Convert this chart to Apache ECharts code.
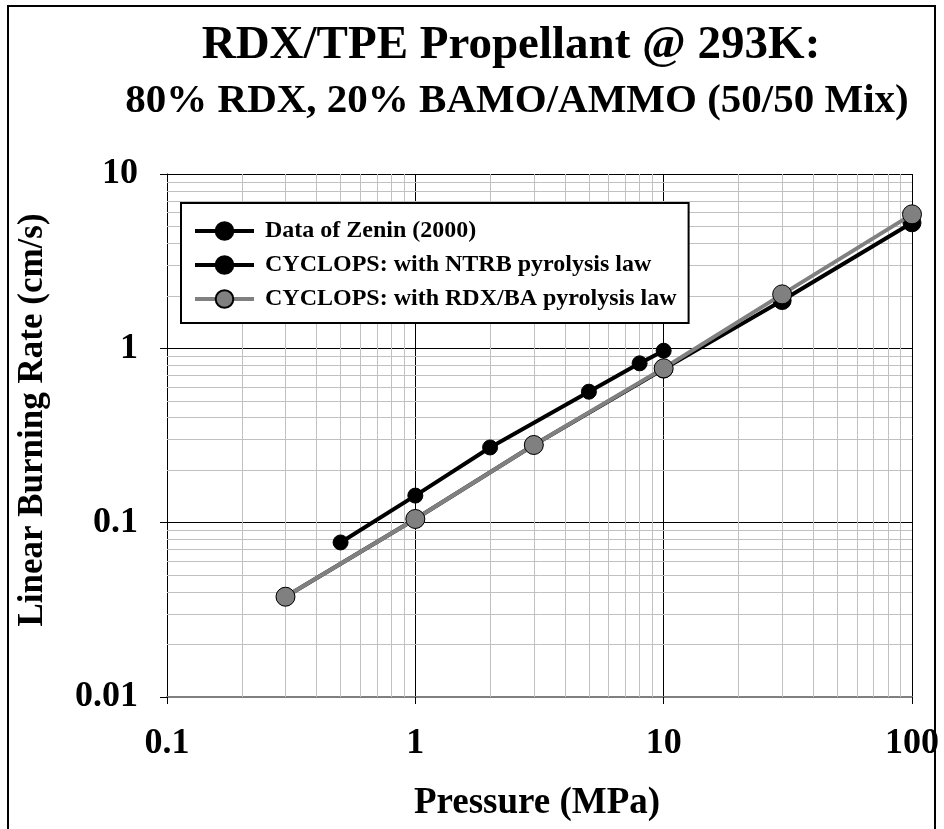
<!DOCTYPE html>
<html>
<head>
<meta charset="utf-8">
<script src="https://cdn.jsdelivr.net/npm/echarts@6/dist/echarts.min.js"></script>
<style>
html,body{margin:0;padding:0;background:#fff;}
#chart{width:944px;height:829px;}
</style>
</head>
<body>
<div id="chart"></div>
<script>
// ---- data ----
const seriesNames = ['Data of Zenin (2000)', 'CYCLOPS: with NTRB pyrolysis law', 'CYCLOPS: with RDX/BA pyrolysis law'];
const pressureZenin = [0.5, 1, 2, 5, 8, 10];
const rateZenin = [0.077, 0.143, 0.270, 0.564, 0.82, 0.969];
const pressureModel = [0.3, 1, 3, 10, 30, 100];
const rateNTRB = [0.0376, 0.105, 0.279, 0.76, 1.88, 5.25];
const rateRDXBA = [0.0376, 0.105, 0.279, 0.768, 2.04, 5.87];
const xTickLabels = ['0.1', '1', '10', '100'];
const yTickLabels = ['0.01', '0.1', '1', '10'];
const titleText = 'RDX/TPE Propellant @ 293K:';
const subtitleText = '80% RDX, 20% BAMO/AMMO (50/50 Mix)';
const xAxisTitle = 'Pressure (MPa)';
const yAxisTitle = 'Linear Burning Rate (cm/s)';

// minor gridline positions (2..9 within each decade)
function minorValues(labels) {
  const out = [];
  for (let i = 0; i < labels.length - 1; i++) {
    const base = Number(labels[i]);
    for (let k = 2; k <= 9; k++) out.push(+(base * k).toPrecision(6));
  }
  return out;
}
const xMinor = minorValues(xTickLabels);
const yMinor = minorValues(yTickLabels);

function pairs(xs, ys) { return xs.map((x, i) => [x, ys[i]]); }
function labelFor(list) {
  return function (v) {
    const hit = list.find(t => Math.abs(Math.log10(Number(t)) - Math.log10(v)) < 1e-6);
    return hit === undefined ? '' : hit;
  };
}

const FONT = "'Liberation Serif', 'Times New Roman', serif";

const chart = echarts.init(document.getElementById('chart'), null, {renderer: 'canvas'});
const option = {
  backgroundColor: '#ffffff',
  animation: false,
  title: [
    {text: titleText, left: 511, top: 46, textAlign: 'center', textVerticalAlign: 'middle', padding: 0,
      textStyle: {fontFamily: FONT, fontWeight: 'bold', fontSize: 47, color: '#000'}},
    {text: subtitleText, left: 517, top: 101, textAlign: 'center', textVerticalAlign: 'middle', padding: 0,
      textStyle: {fontFamily: FONT, fontWeight: 'bold', fontSize: 41, color: '#000'}}
  ],
  grid: {left: 167, top: 174, right: 32, bottom: 132, containLabel: false},
  xAxis: {
    type: 'log', logBase: 10,
    min: Number(xTickLabels[0]), max: Number(xTickLabels[xTickLabels.length - 1]),
    axisLine: {show: true, onZero: false, lineStyle: {color: '#808080', width: 2}},
    axisTick: {show: true, length: 7, inside: false, lineStyle: {color: '#000', width: 1}},
    axisLabel: {show: true, margin: 29, color: '#000', fontFamily: FONT, fontWeight: 'bold', fontSize: 36,
      formatter: labelFor(xTickLabels)},
    splitLine: {show: true, lineStyle: {color: '#000', width: 1}},
    minorTick: {show: false}, minorSplitLine: {show: false}
  },
  yAxis: {
    type: 'log', logBase: 10,
    min: Number(yTickLabels[0]), max: Number(yTickLabels[yTickLabels.length - 1]),
    axisLine: {show: true, onZero: false, lineStyle: {color: '#000', width: 1}},
    axisTick: {show: true, length: 7, inside: false, lineStyle: {color: '#000', width: 1}},
    axisLabel: {show: true, margin: 29, color: '#000', fontFamily: FONT, fontWeight: 'bold', fontSize: 36,
      formatter: labelFor(yTickLabels)},
    splitLine: {show: true, lineStyle: {color: '#000', width: 1}},
    minorTick: {show: false}, minorSplitLine: {show: false}
  },
  legend: {
    show: true,
    orient: 'vertical',
    left: 181, top: 203,
    z: 10,
    padding: [16, 12, 12, 12],
    itemWidth: 59, itemHeight: 22, itemGap: 10,
    backgroundColor: '#ffffff',
    borderColor: '#000', borderWidth: 2,
    lineStyle: {width: 4},
    formatter: function (name) { return ' ' + name; },
    textStyle: {fontFamily: FONT, fontWeight: 'bold', fontSize: 24, color: '#000'},
    data: seriesNames,
    selectedMode: false
  },
  graphic: [
    {type: 'rect', silent: true, z: 100,
      shape: {x: 8, y: 6, width: 927, height: 900},
      style: {fill: 'none', stroke: '#000', lineWidth: 2}},
    {type: 'text', x: 537, y: 803, silent: true,
      style: {text: xAxisTitle, font: "bold 37px " + FONT, fill: '#000', textAlign: 'center', textVerticalAlign: 'middle'}},
    {type: 'text', x: 33, y: 420, rotation: Math.PI / 2, silent: true,
      style: {text: yAxisTitle, font: "bold 35px " + FONT, fill: '#000', textAlign: 'center', textVerticalAlign: 'middle'}}
  ],
  series: [
    {
      name: '__minorGrid', type: 'line', data: [], silent: true, z: 1,
      markLine: {
        z: 1,
        silent: true, symbol: ['none', 'none'], animation: false,
        label: {show: false},
        lineStyle: {color: '#c0c0c0', width: 1, type: 'solid'},
        emphasis: {disabled: true},
        data: xMinor.map(v => ({xAxis: v})).concat(yMinor.map(v => ({yAxis: v})))
      }
    },
    {
      name: seriesNames[0], type: 'line', z: 3,
      data: pairs(pressureZenin, rateZenin),
      symbol: 'circle', symbolSize: 15,
      lineStyle: {color: '#000', width: 4},
      itemStyle: {color: '#000', borderColor: '#000', borderWidth: 1}
    },
    {
      name: seriesNames[1], type: 'line', z: 3,
      data: pairs(pressureModel, rateNTRB),
      symbol: 'circle', symbolSize: 18,
      lineStyle: {color: '#000', width: 4},
      itemStyle: {color: '#000', borderColor: '#000', borderWidth: 1}
    },
    {
      name: seriesNames[2], type: 'line', z: 4,
      data: pairs(pressureModel, rateRDXBA),
      symbol: 'circle', symbolSize: 19,
      lineStyle: {color: '#808080', width: 4},
      itemStyle: {color: '#808080', borderColor: '#000', borderWidth: 1}
    }
  ]
};
chart.setOption(option);
</script>
</body>
</html>
